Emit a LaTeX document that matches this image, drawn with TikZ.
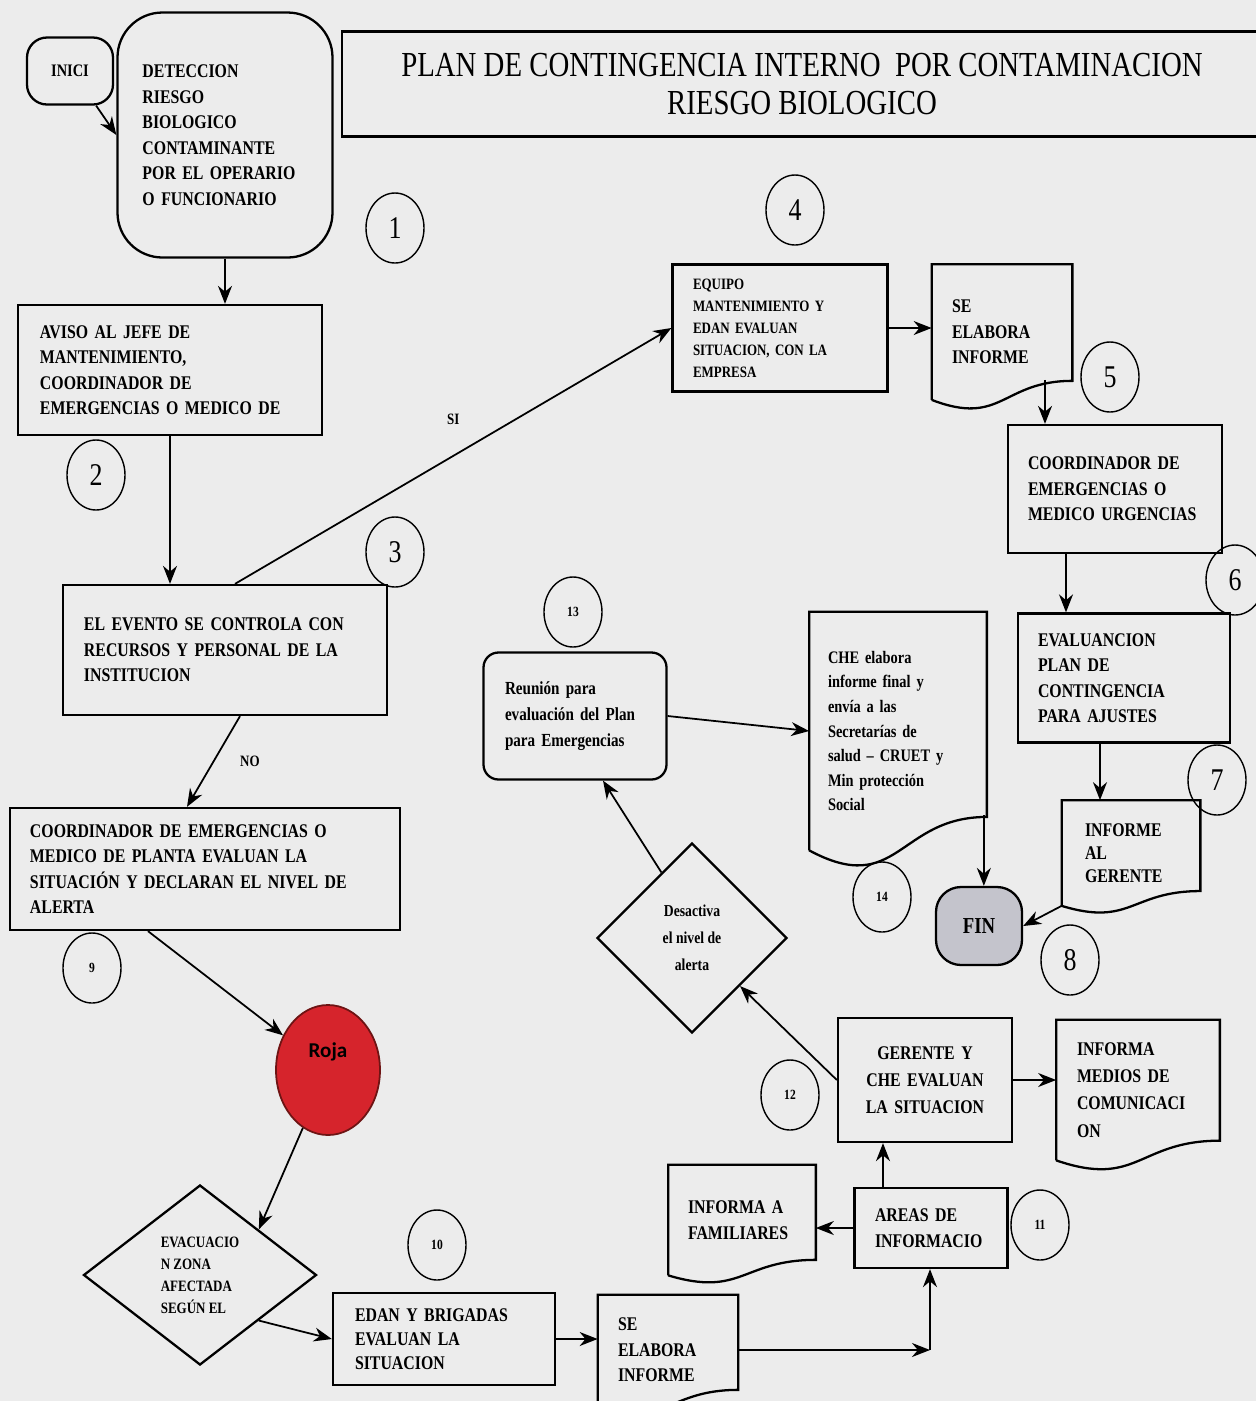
\documentclass[tikz,border=0pt]{standalone}
\usepackage{fontspec}
\setmainfont{Liberation Serif}[FakeStretch=0.82]
\newfontfamily\calfont{Carlito}
\usepackage{tikz}
\usetikzlibrary{arrows.meta,shapes,positioning,calc}
\definecolor{pfpaper}{RGB}{236,236,236}
\definecolor{pfroja}{RGB}{214,36,44}
\definecolor{pfrojaborde}{RGB}{110,20,20}
\definecolor{pffin}{RGB}{196,196,204}
\newcommand{\pasofont}{\fontsize{11}{14.5}\selectfont\bfseries}
\newcommand{\numfont}{\fontsize{18}{18}\selectfont}
\newcommand{\numsmallfont}{\fontsize{8}{8}\selectfont\bfseries}
\tikzstyle{boxline} = [draw=black, line width=1.3pt]
\tikzstyle{flecha} = [line width=1pt, -{Stealth[length=3.6mm,width=2.8mm]}]
\tikzstyle{paso} = [rectangle, boxline, align=left, font=\pasofont]
\tikzstyle{docbox} = [rectangle, align=left, font=\pasofont]
\tikzstyle{decision} = [diamond, boxline, inner sep=0pt]
\tikzstyle{numcirc} = [ellipse, draw=black, line width=0.8pt, minimum width=11.6mm, minimum height=14mm, inner sep=0pt, font=\numfont]
\tikzstyle{numsmall} = [numcirc, font=\numsmallfont]
% hoja con borde ondulado abajo
\newcommand{\docframe}[1]{%
  \draw[boxline] (#1.south west) -- (#1.north west) -- (#1.north east)
    -- ($(#1.south east)!0.14!(#1.north east)$)
    .. controls ($(#1.south)!0.14!(#1.north)$) and ($(#1.south)!-0.2!(#1.north)$)
    .. (#1.south west);}

\begin{document}
\begin{tikzpicture}[x=0.2mm, y=-0.2mm]
\useasboundingbox (0,0) rectangle (1256,1401);
\fill[pfpaper] (0,0) rectangle (1256,1401);

% Titulo
\node (titulo) [rectangle, boxline, minimum width=184mm, minimum height=21mm, align=center, font=\fontsize{20}{21.6}\selectfont] at (802,84) {PLAN DE CONTINGENCIA INTERNO\ \ POR CONTAMINACION\\RIESGO BIOLOGICO};

% Inicio y deteccion
\node (inici) [rectangle, rounded corners=4mm, boxline, minimum width=17.2mm, minimum height=13.4mm, font=\fontsize{10}{12}\selectfont\bfseries] at (70,71) {INICI};
\node (deteccion) [paso, rounded corners=9mm, minimum width=43mm, minimum height=49mm, text width=33mm] at (225,135) {DETECCION\\RIESGO\\BIOLOGICO\\CONTAMINANTE\\POR EL OPERARIO\\O FUNCIONARIO};
\node (aviso) [paso, minimum width=60.8mm, minimum height=26mm, text width=52mm] at (170,370) {AVISO AL JEFE DE\\MANTENIMIENTO,\\COORDINADOR DE\\EMERGENCIAS O MEDICO DE};
\node (evento) [paso, minimum width=64.8mm, minimum height=26mm, text width=56.4mm] at (225,650) {EL EVENTO SE CONTROLA CON\\RECURSOS Y PERSONAL DE LA\\INSTITUCION};
\node (coordpl) [paso, minimum width=78mm, minimum height=24.4mm, text width=70mm] at (205,869) {COORDINADOR DE EMERGENCIAS O\\MEDICO DE PLANTA EVALUAN LA\\SITUACIÓN Y DECLARAN EL NIVEL DE\\ALERTA};

% Alerta roja
\node (roja) [ellipse, draw=pfrojaborde, line width=1pt, fill=pfroja, minimum width=20.8mm, minimum height=26mm, font=\calfont\bfseries\fontsize{12}{14}\selectfont] at (328,1070) {\raisebox{8mm}{Roja}};
\node (evac) [decision, minimum width=46.6mm, minimum height=36mm, align=left, font=\fontsize{9}{12.5}\selectfont\bfseries] at (200,1275) {EVACUACIO\\N ZONA\\AFECTADA\\SEGÚN EL};
\node (edan) [paso, minimum width=44.4mm, minimum height=18.4mm, text width=35.6mm, font=\fontsize{11}{13.5}\selectfont\bfseries] at (444,1339) {EDAN Y BRIGADAS\\EVALUAN LA\\SITUACION};
\node (seinf2) [docbox, minimum width=28mm, minimum height=22mm, text width=20mm] at (668,1350) {SE\\ELABORA\\INFORME};
\docframe{seinf2}
\coordinate (codo) at (930,1350);

% Informacion
\node (areas) [paso, minimum width=30.6mm, minimum height=16mm, text width=22.4mm, font=\fontsize{11}{15}\selectfont\bfseries] at (931,1228) {AREAS DE\\INFORMACIO};
\node (famil) [docbox, minimum width=29.4mm, minimum height=22mm, text width=21.6mm, font=\fontsize{11}{15}\selectfont\bfseries] at (742,1220) {INFORMA A\\FAMILIARES};
\docframe{famil}
\node (gerente) [paso, align=center, minimum width=34.8mm, minimum height=24.8mm, text width=28mm, font=\fontsize{11}{15.4}\selectfont\bfseries] at (925,1080) {GERENTE Y\\CHE EVALUAN\\LA SITUACION};
\node (medios) [docbox, minimum width=32.6mm, minimum height=28mm, text width=24.4mm, font=\fontsize{11}{15.5}\selectfont\bfseries] at (1138,1090) {INFORMA\\MEDIOS DE\\COMUNICACI\\ON};
\docframe{medios}
\node (desact) [decision, minimum width=38mm, minimum height=38mm, align=center, font=\fontsize{9.5}{15.5}\selectfont\bfseries] at (692,938) {Desactiva\\el nivel de\\alerta};
\node (reunion) [rectangle, rounded corners=3mm, boxline, align=left, minimum width=36.6mm, minimum height=25.4mm, text width=28mm, font=\fontsize{10.5}{15}\selectfont\bfseries] at (575,716) {Reunión para\\evaluación del Plan\\para Emergencias};
\node (che) [docbox, minimum width=35.4mm, minimum height=47.6mm, text width=28mm, font=\fontsize{10}{14}\selectfont\bfseries] at (898,731) {CHE elabora\\informe final y\\envía a las\\Secretarías de\\salud -- CRUET y\\Min protección\\Social};
\docframe{che}

% Rama SI
\node (equipo) [paso, minimum width=43mm, minimum height=25.4mm, text width=34.8mm, font=\fontsize{9}{12.5}\selectfont\bfseries] at (780,328) {EQUIPO\\MANTENIMIENTO Y\\EDAN EVALUAN\\SITUACION, CON LA\\EMPRESA};
\node (seinf1) [docbox, minimum width=28mm, minimum height=27mm, text width=20mm] at (1002,332) {SE\\ELABORA\\INFORME};
\docframe{seinf1}
\node (coord) [paso, minimum width=42.8mm, minimum height=25.6mm, text width=34.8mm] at (1115,489) {COORDINADOR DE\\EMERGENCIAS O\\MEDICO URGENCIAS};
\node (evalu) [paso, minimum width=42.4mm, minimum height=25.8mm, text width=34.4mm] at (1124,678) {EVALUANCION\\PLAN DE\\CONTINGENCIA\\PARA AJUSTES};
\node (infger) [docbox, minimum width=27.6mm, minimum height=21mm, text width=18.4mm, font=\fontsize{11}{13}\selectfont\bfseries] at (1131,853) {INFORME\\AL\\GERENTE};
\docframe{infger}
\node (fin) [rectangle, rounded corners=5mm, boxline, fill=pffin, minimum width=17.2mm, minimum height=15.6mm, font=\fontsize{13}{15}\selectfont\bfseries] at (979,926) {FIN};

% Numeros de paso
\node (n1) [numcirc] at (395,228) {1};
\node (n2) [numcirc] at (96,475) {2};
\node (n3) [numcirc] at (395,552) {3};
\node (n4) [numcirc] at (795,210) {4};
\node (n5) [numcirc] at (1110,377) {5};
\node (n6) [numcirc] at (1235,580) {6};
\node (n7) [numcirc] at (1217,780) {7};
\node (n8) [numcirc] at (1070,960) {8};
\node (n9) [numsmall] at (92,968) {9};
\node (n10) [numsmall] at (437,1245) {10};
\node (n11) [numsmall] at (1040,1225) {11};
\node (n12) [numsmall] at (790,1095) {12};
\node (n13) [numsmall] at (573,612) {13};
\node (n14) [numsmall] at (882,897) {14};

% Conectores
\draw[flecha] ([xshift=-3.6mm]inici.south east) -- (deteccion.west);
\draw[flecha] (deteccion.south) -- (deteccion.south |- aviso.north);
\draw[flecha] (aviso.south) -- (aviso.south |- evento.north);
\draw[flecha] ([xshift=2mm]evento.north) -- node[midway, above=5mm, font=\fontsize{9}{9}\selectfont\bfseries] {SI} (equipo.west);
\draw[flecha] ([xshift=3mm]evento.south) -- node[midway, right=4mm, font=\fontsize{9}{9}\selectfont\bfseries] {NO} ([xshift=-3.6mm]coordpl.north);
\draw[flecha] ([xshift=-11.4mm]coordpl.south) -- (roja);
\draw[flecha] (roja) -- (evac.north east);
\draw[flecha] (evac.south east) -- (edan.west);
\draw[flecha] (edan.east) -- (edan.east -| seinf2.west);
\draw[flecha] (seinf2.east) -- (codo);
\draw[flecha] (codo) -- (codo |- areas.south);
\coordinate (areasup) at ([xshift=-9.6mm]areas.north);
\draw[flecha] (areasup) -- (areasup |- gerente.south);
\draw[flecha] (areas.west) -- (areas.west -| famil.east);
\draw[flecha] (gerente.east) -- (gerente.east -| medios.west);
\draw[flecha] (gerente.west) -- (desact.south east);
\draw[flecha] (desact.115) -- ([xshift=5.6mm]reunion.south);
\draw[flecha] (reunion.east) -- (che.west);
\coordinate (cheout) at ([xshift=-0.6mm,yshift=7mm]che.south east);
\draw[flecha] (cheout) -- (cheout |- fin.north);
\draw[flecha] (infger.south west) -- (fin.east);
\coordinate (evalout) at ([xshift=-4.8mm]evalu.south);
\draw[flecha] (evalout) -- (evalout |- infger.north);
\coordinate (coordout) at ([xshift=-9.8mm]coord.south);
\draw[flecha] (coordout) -- (coordout |- evalu.north);
\coordinate (infout) at ([xshift=8.6mm,yshift=4mm]seinf1.south);
\draw[flecha] (infout) -- (infout |- coord.north);
\draw[flecha] (equipo.east) -- (equipo.east -| seinf1.west);
\end{tikzpicture}
\end{document}
